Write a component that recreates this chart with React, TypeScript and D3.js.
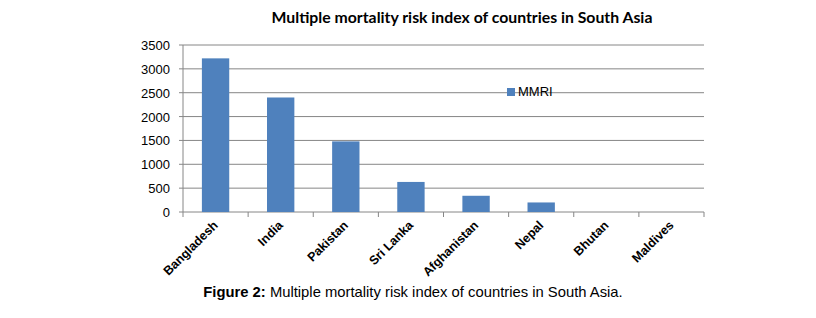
import React from "react";
import * as d3 from "d3";

const categories = ["Bangladesh", "India", "Pakistan", "Sri Lanka", "Afghanistan", "Nepal", "Bhutan", "Maldives"];
const mmriValues = [3220, 2400, 1480, 630, 340, 200, 0, 0];
const yTicks = [0, 500, 1000, 1500, 2000, 2500, 3000, 3500];
const seriesName = "MMRI";
const titleText = "Multiple mortality risk index of countries in South Asia";
const captionBold = "Figure 2:";
const captionRest = " Multiple mortality risk index of countries in South Asia.";

const W = 816;
const H = 318;
const left = 183;
const right = 704;
const top = 45;
const bottom = 212;

export default function App() {
  const x = d3.scaleBand<string>().domain(categories).range([left, right]).paddingInner(0.58).paddingOuter(0.29);
  const xb = d3.scaleBand<string>().domain(categories).range([left, right]);
  const y = d3.scaleLinear().domain([0, 3500]).range([bottom, top]);
  const grid = "#868686";
  const boundaries = d3.range(categories.length + 1).map((i) => left + i * xb.step());

  return (
    <svg width={W} height={H} style={{ position: "absolute", left: 0, top: 0, background: "#fff" }}>
      <text x={462} y={23} textAnchor="middle" fontFamily="Lato, 'Open Sans', sans-serif" fontWeight="bold" fontSize={15.8} fill="#000">
        {titleText}
      </text>
      {yTicks.map((t) => (
        <g key={t}>
          <line x1={left - 4} x2={right} y1={y(t)} y2={y(t)} stroke={grid} strokeWidth={1} />
          <text x={170} y={y(t) + 5} textAnchor="end" fontFamily="'Liberation Sans', Arial, sans-serif" fontSize={13} fill="#000">
            {t}
          </text>
        </g>
      ))}
      <line x1={left} x2={left} y1={top} y2={bottom} stroke={grid} strokeWidth={1} />
      {boundaries.map((b, i) => (
        <line key={i} x1={b} x2={b} y1={bottom} y2={bottom + 5} stroke={grid} strokeWidth={1} />
      ))}
      {categories.map((c, i) => (
        <rect key={c} x={x(c)} y={y(mmriValues[i])} width={x.bandwidth()} height={bottom - y(mmriValues[i])} fill="#4F81BD" />
      ))}
      {categories.map((c) => {
        const cx = (xb(c) as number) + xb.bandwidth() / 2 + 3;
        const cy = bottom + 14;
        return (
          <text key={c} x={cx} y={cy} transform={`rotate(-45 ${cx} ${cy})`} textAnchor="end" fontFamily="'Liberation Sans', Arial, sans-serif" fontWeight="bold" fontSize={12.5} fill="#000">
            {c}
          </text>
        );
      })}
      <rect x={507} y={88} width={8} height={8} fill="#4F81BD" />
      <text x={518} y={96} fontFamily="'Liberation Sans', Arial, sans-serif" fontSize={13} fill="#000">
        {seriesName}
      </text>
      <text x={413} y={297} textAnchor="middle" fontFamily="'Liberation Sans', Arial, sans-serif" fontSize={14.8} fill="#000">
        <tspan fontWeight="bold">{captionBold}</tspan>
        <tspan>{captionRest}</tspan>
      </text>
    </svg>
  );
}
